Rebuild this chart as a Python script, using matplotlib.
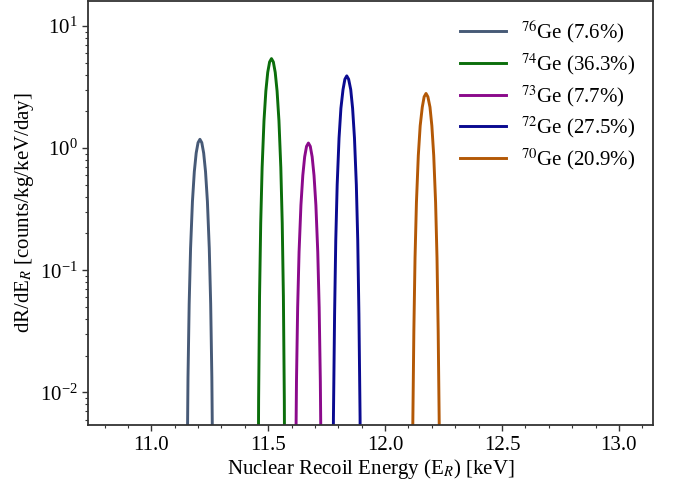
import matplotlib
matplotlib.use("Agg")
import matplotlib.pyplot as plt

plt.rcParams['font.family'] = ['Liberation Serif', 'DejaVu Serif']
plt.rcParams['mathtext.fontset'] = 'stix'

# Data (energy in keV, rate in counts/kg/keV/day)
labels = [r"$^{76}$Ge (7.6%)", r"$^{74}$Ge (36.3%)", r"$^{73}$Ge (7.7%)",
          r"$^{72}$Ge (27.5%)", r"$^{70}$Ge (20.9%)"]
colors = ["#475a77", "#0b6e0b", "#8b0a8b", "#0a0a90", "#b35806"]

E_76 = [11.150, 11.153, 11.157, 11.162, 11.168, 11.176, 11.184, 11.192, 11.200, 11.208,
        11.216, 11.224, 11.232, 11.240, 11.248, 11.254, 11.259, 11.263, 11.266]
R_76 = [0.00008, 0.0019, 0.0133, 0.053, 0.151, 0.366, 0.641, 0.911, 1.108, 1.18,
        1.108, 0.911, 0.641, 0.366, 0.151, 0.053, 0.0133, 0.0019, 0.00008]

E_74 = [11.456, 11.459, 11.463, 11.468, 11.474, 11.482, 11.490, 11.498, 11.506, 11.514,
        11.522, 11.530, 11.538, 11.546, 11.554, 11.560, 11.565, 11.569, 11.572]
R_74 = [0.0004, 0.0086, 0.061, 0.243, 0.691, 1.674, 2.93, 4.17, 5.07, 5.4,
        5.07, 4.17, 2.93, 1.674, 0.691, 0.243, 0.061, 0.0086, 0.0004]

E_73 = [11.614, 11.617, 11.621, 11.626, 11.632, 11.640, 11.648, 11.656, 11.664, 11.672,
        11.680, 11.688, 11.696, 11.704, 11.712, 11.718, 11.723, 11.727, 11.730]
R_73 = [0.00008, 0.0018, 0.0124, 0.0495, 0.141, 0.341, 0.597, 0.849, 1.033, 1.10,
        1.033, 0.849, 0.597, 0.341, 0.141, 0.0495, 0.0124, 0.0018, 0.00008]

E_72 = [11.776, 11.779, 11.784, 11.789, 11.795, 11.803, 11.811, 11.820, 11.828, 11.836,
        11.844, 11.853, 11.861, 11.869, 11.877, 11.883, 11.888, 11.893, 11.896]
R_72 = [0.0003, 0.0062, 0.044, 0.176, 0.499, 1.209, 2.118, 3.011, 3.662, 3.9,
        3.662, 3.011, 2.118, 1.209, 0.499, 0.176, 0.044, 0.0062, 0.0003]

E_70 = [12.115, 12.118, 12.123, 12.128, 12.134, 12.142, 12.150, 12.159, 12.167, 12.175,
        12.183, 12.192, 12.200, 12.208, 12.216, 12.222, 12.227, 12.232, 12.235]
R_70 = [0.0002, 0.0045, 0.032, 0.126, 0.358, 0.868, 1.520, 2.162, 2.629, 2.8,
        2.629, 2.162, 1.520, 0.868, 0.358, 0.126, 0.032, 0.0045, 0.0002]

energies = [E_76, E_74, E_73, E_72, E_70]
rates = [R_76, R_74, R_73, R_72, R_70]

xticks = [11.0, 11.5, 12.0, 12.5, 13.0]

fig = plt.figure(figsize=(6.73, 4.87), dpi=100)
ax = fig.add_axes([0.131, 0.127, 0.839, 0.871])

for e, r, lab, col in zip(energies, rates, labels, colors):
    ax.plot(e, r, color=col, lw=2.1, label=lab)

ax.set_yscale('log')
ax.set_xlim(10.73, 13.145)
ax.set_ylim(0.0054, 16)
ax.set_xticks(xticks)
ax.set_xticklabels([f"{t:.1f}" for t in xticks])
ax.xaxis.set_minor_locator(matplotlib.ticker.MultipleLocator(0.1))

ax.tick_params(axis='both', which='major', labelsize=15, length=4, width=1.0, color='#333333')
ax.tick_params(axis='both', which='minor', length=2.5, width=0.8, color='#333333')
for s in ax.spines.values():
    s.set_color('#333333')
    s.set_linewidth(1.3)

ax.set_xlabel(r"Nuclear Recoil Energy (E$_R$) [keV]", fontsize=15, labelpad=2)
ax.set_ylabel(r"dR/dE$_R$ [counts/kg/keV/day]", fontsize=15, labelpad=3)

ax.legend(loc='upper right', frameon=False, fontsize=15, handlelength=2.2,
          labelspacing=0.3, borderaxespad=0.45, handletextpad=0.7)

fig.savefig("out.png", dpi=100)
